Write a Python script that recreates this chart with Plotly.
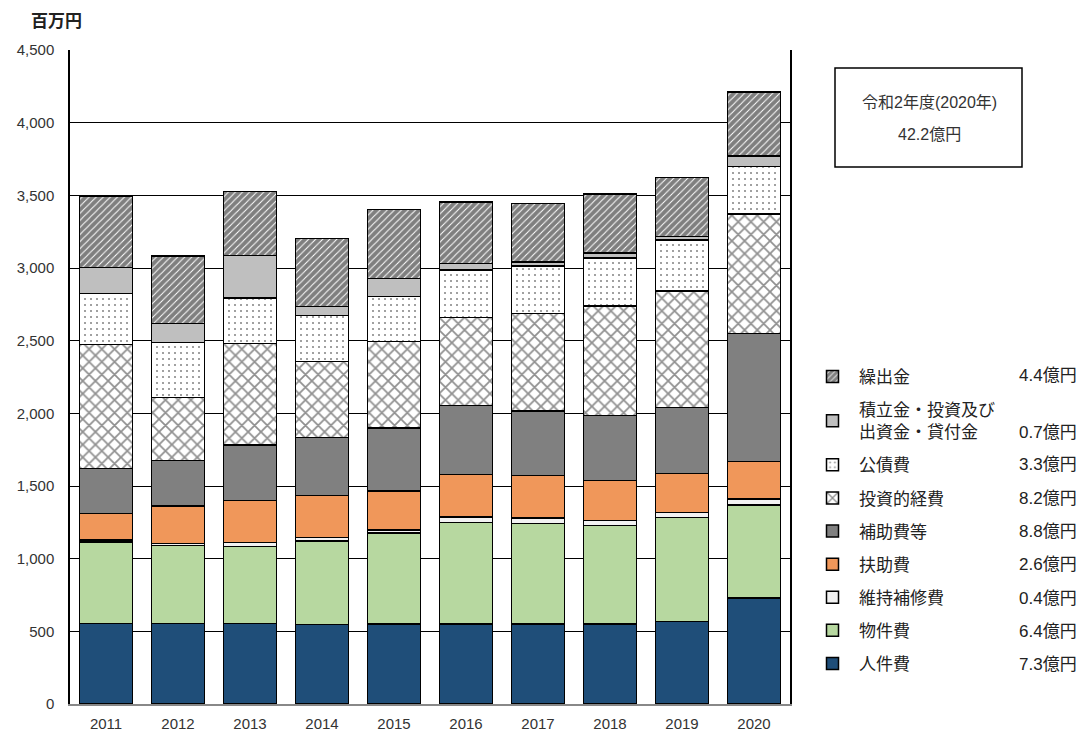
import plotly.graph_objects as go

years = ["2011", "2012", "2013", "2014", "2015", "2016", "2017", "2018", "2019", "2020"]

jinkenhi   = [555, 555, 555, 546, 550, 550, 550, 550, 569, 730]   # 人件費
bukkenhi   = [560, 537, 530, 576, 625, 698, 691, 679, 716, 640]   # 物件費
iji        = [13, 14, 25, 25, 22, 39, 39, 32, 31, 40]             # 維持補修費
fujo       = [182, 256, 289, 289, 269, 293, 294, 276, 271, 260]   # 扶助費
hojo       = [312, 315, 383, 399, 433, 475, 442, 447, 452, 880]   # 補助費等
toshi      = [853, 431, 697, 520, 594, 606, 670, 755, 803, 820]   # 投資的経費
kousai     = [351, 378, 315, 317, 312, 325, 328, 330, 349, 330]   # 公債費
tsumitate  = [179, 133, 291, 64, 124, 46, 29, 34, 25, 70]         # 積立金・投資及び出資金・貸付金
kuridashi  = [486, 464, 440, 466, 472, 422, 400, 406, 408, 440]   # 繰出金

y_ticks = [0, 500, 1000, 1500, 2000, 2500, 3000, 3500, 4000, 4500]
y_ticktext = ["0", "500", "1,000", "1,500", "2,000", "2,500", "3,000", "3,500", "4,000", "4,500"]

CJK = "Noto Sans CJK JP"
NUM = "Liberation Sans, Noto Sans CJK JP"

series = [
    ("人件費", jinkenhi, dict(color="#1F4E79")),
    ("物件費", bukkenhi, dict(color="#B7D8A0")),
    ("維持補修費", iji, dict(color="#F2F2F2")),
    ("扶助費", fujo, dict(color="#F0975A")),
    ("補助費等", hojo, dict(color="#808080")),
    ("投資的経費", toshi, dict(color="white",
                               pattern=dict(shape="x", fgcolor="#222222", bgcolor="white",
                                            size=9, solidity=0.35))),
    ("公債費", kousai, dict(color="white",
                           pattern=dict(shape=".", fgcolor="#111111", bgcolor="white",
                                        size=6, solidity=0.1))),
    ("積立金・投資及び<br>出資金・貸付金", tsumitate, dict(color="#BFBFBF")),
    ("繰出金", kuridashi, dict(color="white",
                           pattern=dict(shape="/", fgcolor="black", bgcolor="white",
                                        size=5, solidity=0.8))),
]

fig = go.Figure()
for i, (name, vals, mk) in enumerate(series):
    mk = dict(mk)
    mk["line"] = dict(color="black", width=1.5)
    fig.add_trace(go.Bar(
        x=years, y=vals, name=name, marker=mk,
        legendgroup=f"g{i}", legendrank=1000 - i * 10,
    ))

plot_top, plot_bottom, plot_left, plot_right = 50, 704, 70, 790
W = plot_right - plot_left
H = plot_bottom - plot_top

def px_x(p):
    return (p - plot_left) / W

def px_y(p):
    return (plot_bottom - p) / H

# legend values (2020, in 億円)
legend_vals = [v[-1] / 100 for _, v, _ in series]
item_px = [664, 631, 598, 564, 531, 498, 465, 432, 375]
annos = []
for val, py in zip(legend_vals, item_px):
    annos.append(dict(
        text=f"{val:.1f}億円", xref="paper", yref="paper",
        x=px_x(1079), y=px_y(py),
        xanchor="right", yanchor="middle", showarrow=False,
        font=dict(family=NUM, size=17, color="#222222"),
    ))

annos.append(dict(
    text="<b>百万円</b>", xref="paper", yref="paper",
    x=px_x(29), y=px_y(19),
    xanchor="left", yanchor="middle", showarrow=False,
    font=dict(family=CJK, size=17, color="#222222"),
))
annos.append(dict(
    text="令和2年度(2020年)", xref="paper", yref="paper",
    x=px_x(929), y=px_y(102),
    xanchor="center", yanchor="middle", showarrow=False,
    font=dict(family=NUM, size=16, color="#333333"),
))
annos.append(dict(
    text="42.2億円", xref="paper", yref="paper",
    x=px_x(929), y=px_y(135),
    xanchor="center", yanchor="middle", showarrow=False,
    font=dict(family=NUM, size=16, color="#333333"),
))

shapes = [dict(
    type="rect", xref="paper", yref="paper",
    x0=px_x(835), x1=px_x(1022), y0=px_y(167), y1=px_y(68),
    line=dict(color="black", width=1.5), fillcolor="rgba(0,0,0,0)",
)]

fig.update_layout(
    barmode="stack",
    bargap=0.26,
    width=1084, height=734,
    margin=dict(l=plot_left, r=1084 - plot_right, t=plot_top, b=734 - plot_bottom,
                autoexpand=False),
    paper_bgcolor="white", plot_bgcolor="white",
    font=dict(family=CJK, size=14, color="#333333"),
    showlegend=True,
    legend=dict(
        traceorder="grouped",
        x=px_x(806), y=px_y(359),
        xanchor="left", yanchor="top",
        font=dict(family=CJK, size=17, color="#222222"),
        tracegroupgap=8,
        itemwidth=43,
        bgcolor="rgba(0,0,0,0)",
    ),
    annotations=annos,
    shapes=shapes,
)
fig.update_xaxes(
    showline=True, linecolor="#888888", linewidth=1.5, mirror=False,
    ticks="", ticklabelstandoff=5,
    tickfont=dict(family=NUM, size=15, color="#333333"),
)
fig.update_yaxes(
    range=[0, 4500], tickvals=y_ticks, ticktext=y_ticktext,
    showgrid=True, gridcolor="black", gridwidth=1.2,
    showline=True, linecolor="black", linewidth=1.5, mirror=True,
    ticks="", ticklabelstandoff=11,
    tickfont=dict(family=NUM, size=15, color="#333333"),
    zeroline=False,
)
fig.write_html("out.html", config={"displayModeBar": False},
               post_script="document.body.style.margin='0';")
